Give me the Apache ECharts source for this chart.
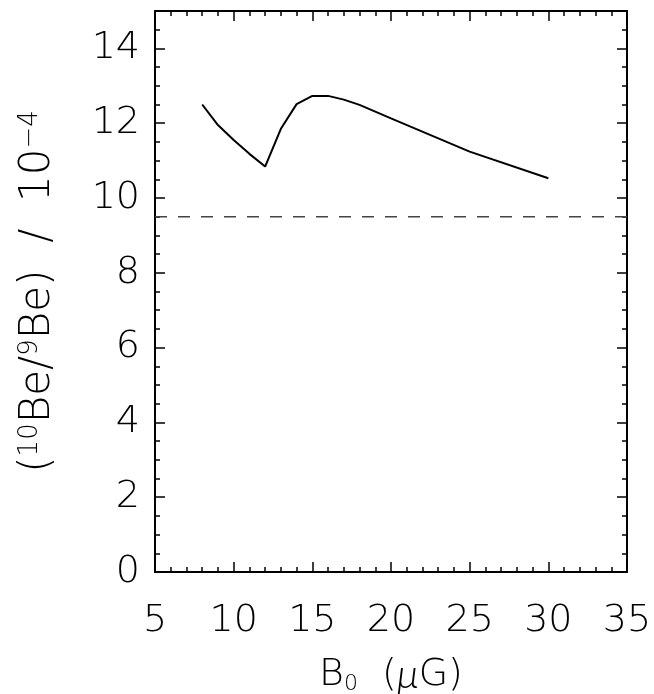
<!DOCTYPE html>
<html>
<head>
<meta charset="utf-8">
<script src="https://cdn.jsdelivr.net/npm/echarts@6/dist/echarts.min.js"></script>
<style>
  html, body { margin: 0; padding: 0; background: #fff; }
  #chart { width: 654px; height: 694px; }
</style>
</head>
<body>
<div id="chart"></div>
<script>
// ── data ──
const bField = [8, 9, 10, 11, 12, 13, 14, 15, 16, 17, 18, 20, 25, 30];
const beRatio = [12.50, 11.95, 11.55, 11.18, 10.84, 11.85, 12.51, 12.73, 12.73, 12.63, 12.49, 12.13, 11.24, 10.53];
const refX = [5, 35];
const refY = [9.5, 9.5];

const FONT = 'DejaVu Sans';
const THIN = 200;
const BLACK = '#000';

const chart = echarts.init(document.getElementById('chart'));

// frame axes: line on every side, ticks pointing in
const frameLine = { show: true, onZero: false, lineStyle: { color: BLACK, width: 2 } };
const noLine = { show: false, onZero: false };
const majorTick = { show: true, inside: true, length: 10, lineStyle: { color: BLACK, width: 1.5 } };
const minorTick = { show: true, inside: true, length: 5, lineStyle: { color: BLACK, width: 1.5 } };
const noLabel = { show: false };

chart.setOption({
  animation: false,
  backgroundColor: '#fff',
  grid: { left: 155, right: 27, top: 11, bottom: 122, outerBoundsMode: 'none' },
  xAxis: [
    {
      type: 'value', position: 'bottom', min: 5, max: 35, interval: 5,
      axisLine: frameLine,
      axisTick: majorTick,
      minorTick: { show: true, splitNumber: 5, length: 5, lineStyle: { color: BLACK, width: 1.5 } },
      splitLine: { show: false },
      axisLabel: { margin: 30, fontFamily: FONT, fontSize: 38, fontWeight: THIN, color: BLACK },
      name: '{m|B}{s|0}{m|  (}{i|μ}{m|G)}',
      nameLocation: 'middle', nameGap: 83,
      nameTextStyle: {
        rich: {
          m: { fontFamily: FONT, fontSize: 38, fontWeight: THIN, color: BLACK },
          i: { fontFamily: 'Lato', fontSize: 40, fontStyle: 'italic', fontWeight: 300, color: BLACK },
          s: { fontFamily: FONT, fontSize: 22, fontWeight: THIN, color: BLACK, verticalAlign: 'bottom' }
        }
      }
    },
    {
      type: 'value', position: 'top', min: 5, max: 35, interval: 5,
      axisLine: frameLine,
      axisTick: majorTick,
      minorTick: { show: true, splitNumber: 5, length: 5, lineStyle: { color: BLACK, width: 1.5 } },
      splitLine: { show: false },
      axisLabel: noLabel
    }
  ],
  yAxis: [
    {
      type: 'value', position: 'left', min: 0, max: 15, interval: 2,
      axisLine: frameLine,
      axisTick: majorTick,
      splitLine: { show: false },
      axisLabel: { margin: 15, showMaxLabel: false, fontFamily: FONT, fontSize: 38, fontWeight: THIN, color: BLACK },
      name: '{m|(}{s|10}{m|Be/}{s|9}{m|Be)  /  10}{s|−4}',
      nameLocation: 'middle', nameGap: 96,
      nameTextStyle: {
        rich: {
          m: { fontFamily: FONT, fontSize: 42, fontWeight: THIN, color: BLACK },
          s: { fontFamily: FONT, fontSize: 26, lineHeight: 4, fontWeight: THIN, color: BLACK, verticalAlign: 'top' }
        }
      }
    },
    {
      // half-unit minor ticks, left side
      type: 'value', position: 'left', min: 0, max: 15, interval: 0.5,
      axisLine: noLine,
      axisTick: minorTick,
      splitLine: { show: false },
      axisLabel: noLabel
    },
    {
      type: 'value', position: 'right', min: 0, max: 15, interval: 2,
      axisLine: frameLine,
      axisTick: majorTick,
      splitLine: { show: false },
      axisLabel: noLabel
    },
    {
      type: 'value', position: 'right', min: 0, max: 15, interval: 0.5,
      axisLine: noLine,
      axisTick: minorTick,
      splitLine: { show: false },
      axisLabel: noLabel
    }
  ],
  series: [
    {
      type: 'line', xAxisIndex: 0, yAxisIndex: 0,
      data: refX.map((x, i) => [x, refY[i]]),
      symbol: 'none', silent: true,
      lineStyle: { color: '#444', width: 1.5, type: [12, 11] }
    },
    {
      type: 'line', xAxisIndex: 0, yAxisIndex: 0,
      data: bField.map((b, i) => [b, beRatio[i]]),
      symbol: 'none',
      lineStyle: { color: BLACK, width: 2 }
    }
  ]
});
</script>
</body>
</html>
